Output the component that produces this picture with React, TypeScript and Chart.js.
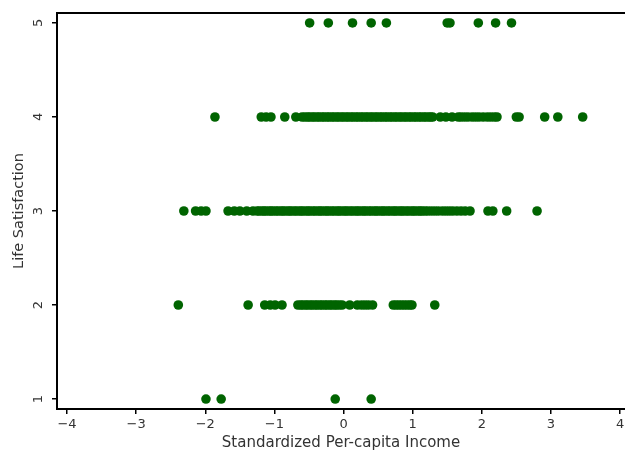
import React, { useEffect, useRef } from "react";
import { Chart, registerables } from "chart.js";

Chart.register(...registerables);

// Life satisfaction levels (y) and standardized per-capita income values (x) read per level
const lifeLevels = [1, 2, 3, 4, 5];

const incomeAt1 = [-1.99, -1.77, -0.12, 0.4];

const incomeAt2 = [
  -2.39, -1.38, -1.14, -1.06, -0.99, -0.89,
  -0.66, -0.62, -0.59, -0.55, -0.52, -0.48, -0.45, -0.41, -0.38, -0.34, -0.31,
  -0.27, -0.24, -0.2, -0.17, -0.13, -0.1, -0.06, -0.02,
  0.09, 0.2, 0.26, 0.31, 0.36, 0.42,
  0.72, 0.76, 0.8, 0.84, 0.88, 0.92, 0.96, 0.99,
  1.32,
];

const incomeAt3 = [
  -2.31, -2.14, -2.06, -1.99,
  -1.67, -1.58, -1.5, -1.4, -1.31,
  -1.25, -1.22, -1.18, -1.15, -1.12, -1.08, -1.05, -1.02, -0.98, -0.95, -0.91,
  -0.88, -0.85, -0.81, -0.78, -0.75, -0.71, -0.68, -0.64, -0.61, -0.58, -0.54,
  -0.51, -0.48, -0.44, -0.41, -0.37, -0.34, -0.31, -0.27, -0.24, -0.21, -0.17,
  -0.14, -0.1, -0.07, -0.04, 0.0, 0.03, 0.06, 0.1, 0.13, 0.17, 0.2, 0.23, 0.27,
  0.3, 0.33, 0.37, 0.4, 0.44, 0.47, 0.5, 0.54, 0.57, 0.6, 0.64, 0.67, 0.71, 0.74,
  0.77, 0.81, 0.84, 0.87, 0.91, 0.94, 0.98, 1.01, 1.04, 1.08, 1.11, 1.14, 1.18,
  1.22, 1.27, 1.32, 1.37, 1.43, 1.48, 1.53, 1.58, 1.64, 1.7, 1.76, 1.83,
  2.09, 2.16, 2.36, 2.8,
];

const incomeAt4 = [
  -1.86, -1.19, -1.12, -1.05, -0.85, -0.69, -0.6,
  -0.56, -0.52, -0.49, -0.45, -0.42, -0.38, -0.35, -0.31, -0.28, -0.24, -0.21,
  -0.17, -0.14, -0.1, -0.07, -0.03, 0.0, 0.04, 0.07, 0.11, 0.14, 0.18, 0.21, 0.25,
  0.28, 0.32, 0.35, 0.39, 0.42, 0.46, 0.49, 0.53, 0.56, 0.6, 0.63, 0.67, 0.7, 0.74,
  0.77, 0.81, 0.84, 0.88, 0.91, 0.95, 0.98, 1.02, 1.05, 1.09, 1.12, 1.16, 1.19,
  1.23, 1.26, 1.29,
  1.4, 1.48, 1.57,
  1.66, 1.7, 1.75, 1.8, 1.86, 1.91, 1.96, 2.02, 2.08, 2.13, 2.18, 2.22,
  2.5, 2.54, 2.91, 3.1, 3.46,
];

const incomeAt5 = [-0.49, -0.22, 0.13, 0.4, 0.62, 1.5, 1.54, 1.95, 2.2, 2.43];

const xTicks = [-4, -3, -2, -1, 0, 1, 2, 3, 4];
const yTicks = [1, 2, 3, 4, 5];

const xTitle = "Standardized Per-capita Income";
const yTitle = "Life Satisfaction";

const FONT = "'DejaVu Sans', 'Liberation Sans', Arial, sans-serif";

export default function App() {
  const ref = useRef<HTMLCanvasElement | null>(null);

  useEffect(() => {
    if (!ref.current) return;
    const rows = [incomeAt1, incomeAt2, incomeAt3, incomeAt4, incomeAt5];
    const points: { x: number; y: number }[] = [];
    rows.forEach((row, i) => {
      row.forEach((v) => points.push({ x: v, y: lifeLevels[i] }));
    });

    const framePlugin = {
      id: "frameTop",
      afterDraw(chart: any) {
        const { ctx, chartArea } = chart;
        ctx.save();
        ctx.strokeStyle = "#000";
        ctx.lineWidth = 2;
        ctx.beginPath();
        ctx.moveTo(chartArea.left - 1, chartArea.top);
        ctx.lineTo(chart.width, chartArea.top);
        ctx.stroke();
        ctx.restore();
      },
    };

    const chart = new Chart(ref.current, {
      type: "scatter",
      data: {
        datasets: [
          {
            data: points,
            backgroundColor: "#006400",
            borderWidth: 0,
            pointRadius: 4.8,
            pointStyle: "circle",
          },
        ],
      },
      options: {
        animation: false,
        responsive: false,
        events: [],
        layout: { autoPadding: false, padding: { top: 13, right: 0, left: 0, bottom: 0 } },
        plugins: { legend: { display: false }, tooltip: { enabled: false } },
        scales: {
          x: {
            type: "linear",
            min: -4.145,
            max: 4.072,
            afterBuildTicks: (s: any) => {
              s.ticks = xTicks.map((v) => ({ value: v }));
            },
            afterFit: (s: any) => {
              s.height = 44;
              s.paddingLeft = 0;
              s.paddingRight = 0;
            },
            grid: {
              display: true,
              drawOnChartArea: false,
              drawTicks: true,
              tickLength: 5,
              color: "#000",
              lineWidth: 1.5,
            },
            border: { display: true, color: "#000", width: 2 },
            ticks: {
              autoSkip: false,
              maxRotation: 0,
              minRotation: 0,
              padding: 3,
              color: "#333",
              font: { family: FONT, size: 13 },
              callback: (v: any) => String(v).replace("-", "\u2212"),
            },
            title: {
              display: true,
              text: xTitle,
              color: "#333",
              font: { family: FONT, size: 15 },
              padding: { top: 0, bottom: 0.5 },
            },
          },
          y: {
            type: "linear",
            min: 0.894,
            max: 5.106,
            afterBuildTicks: (s: any) => {
              s.ticks = yTicks.map((v) => ({ value: v }));
            },
            afterFit: (s: any) => {
              s.width = 57;
              s.paddingTop = 0;
              s.paddingBottom = 0;
            },
            grid: {
              display: true,
              drawOnChartArea: false,
              drawTicks: true,
              tickLength: 5,
              color: "#000",
              lineWidth: 1.5,
            },
            border: { display: true, color: "#000", width: 2 },
            ticks: {
              autoSkip: false,
              minRotation: 90,
              maxRotation: 90,
              crossAlign: "center",
              padding: 9,
              color: "#333",
              font: { family: FONT, size: 13 },
            },
            title: {
              display: true,
              text: yTitle,
              color: "#333",
              font: { family: FONT, size: 14.5 },
              padding: { top: 11, bottom: 0 },
            },
          },
        },
      },
      plugins: [framePlugin],
    } as any);

    return () => chart.destroy();
  }, []);

  return (
    <div
      style={{
        position: "fixed",
        left: 0,
        top: 0,
        width: 625,
        height: 453,
        background: "#fff",
      }}
    >
      <canvas ref={ref} width={625} height={453} />
    </div>
  );
}
